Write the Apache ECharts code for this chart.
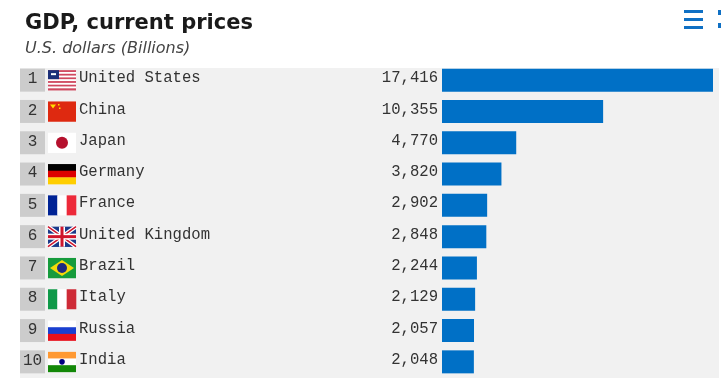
<!DOCTYPE html>
<html>
<head>
<meta charset="utf-8">
<script src="https://cdn.jsdelivr.net/npm/echarts@6/dist/echarts.min.js"></script>
<style>
html,body{margin:0;padding:0;background:#fff;}
#main{width:721px;height:378px;}
</style>
</head>
<body>
<div id="main"></div>
<script>
var countries = ['United States','China','Japan','Germany','France','United Kingdom','Brazil','Italy','Russia','India'];
var gdp = [17416,10355,4770,3820,2902,2848,2244,2129,2057,2048];
var ranks = [1,2,3,4,5,6,7,8,9,10];

var rowFont = '15.6px "Liberation Mono"';

// flags are drawn in a 28x20 box
function stripesH(cols){
    var h = 20/cols.length;
    return cols.map(function(c,i){ return {type:'rect',shape:{x:0,y:i*h,width:28,height:h+0.3},style:{fill:c}}; });
}
function stripesV(cols){
    var w = 28/cols.length;
    return cols.map(function(c,i){ return {type:'rect',shape:{x:i*w,y:0,width:w+0.3,height:20},style:{fill:c}}; });
}
function line(x1,y1,x2,y2,c,w){
    return {type:'line',shape:{x1:x1,y1:y1,x2:x2,y2:y2},style:{stroke:c,lineWidth:w}};
}
var flags = {
    'United States': function(){
        var cols = [];
        for(var i=0;i<11;i++){ cols.push(i%2?'#ffffff':'#d0485f'); }
        return stripesH(cols).concat([
            {type:'rect',shape:{x:0,y:0,width:11,height:9},style:{fill:'#1c2f78'}},
            {type:'rect',shape:{x:3,y:3,width:5,height:2},style:{fill:'#ffffff'}}
        ]);
    },
    'China': function(){
        return stripesH(['#de2910']).concat([
            {type:'polygon',shape:{points:[[2,3],[8,3],[5,7]]},style:{fill:'#ffde00'}},
            {type:'rect',shape:{x:10,y:2.5,width:1.5,height:1.5},style:{fill:'#ffde00'}},
            {type:'rect',shape:{x:11,y:6,width:1.5,height:1.5},style:{fill:'#ffde00'}}
        ]);
    },
    'Japan': function(){
        return stripesH(['#ffffff']).concat([{type:'circle',shape:{cx:14,cy:10,r:6},style:{fill:'#b5102d'}}]);
    },
    'Germany': function(){ return stripesH(['#000000','#dd0000','#ffce00']); },
    'France': function(){ return stripesV(['#002395','#ffffff','#ed2939']); },
    'United Kingdom': function(){
        return stripesH(['#1a3a8a']).concat([
            line(0,0,28,20,'#ffffff',4),line(28,0,0,20,'#ffffff',4),
            line(0,0,28,20,'#cf142b',1.5),line(28,0,0,20,'#cf142b',1.5),
            line(14,0,14,20,'#ffffff',6),line(0,10,28,10,'#ffffff',6),
            line(14,0,14,20,'#cf142b',3),line(0,10,28,10,'#cf142b',3)
        ]);
    },
    'Brazil': function(){
        return stripesH(['#169b3c']).concat([
            {type:'polygon',shape:{points:[[14,2],[26,10],[14,18],[2,10]]},style:{fill:'#f5d90a'}},
            {type:'circle',shape:{cx:14,cy:10,r:5},style:{fill:'#1f2a80'}}
        ]);
    },
    'Italy': function(){ return stripesV(['#109a49','#ffffff','#ce2b37']); },
    'Russia': function(){ return stripesH(['#ffffff','#1a3fd0','#e8101c']); },
    'India': function(){
        return stripesH(['#ff9933','#ffffff','#138808']).concat([{type:'circle',shape:{cx:14,cy:10,r:2.8},style:{fill:'#000080'}}]);
    }
};

function renderRow(params, api){
    var i = api.value(0);
    var y = api.coord([0,i])[1];
    return {
        type:'group',
        children:[
            {type:'rect',shape:{x:20,y:y-11.5,width:25,height:23},style:{fill:'#cccccc'}},
            {type:'text',x:32.5,y:y-1,style:{text:String(ranks[i]),font:'16px "Liberation Mono"',fill:'#333333',align:'center',verticalAlign:'middle'}},
            {type:'group',x:48,y:y-10,children:flags[countries[i]]()},
            {type:'text',x:79,y:y-2,style:{text:countries[i],font:rowFont,fill:'#333333',align:'left',verticalAlign:'middle'}},
            {type:'text',x:438,y:y-2,style:{text:gdp[i].toLocaleString('en-US'),font:rowFont,fill:'#333333',align:'right',verticalAlign:'middle'}}
        ]
    };
}

var myChart = echarts.init(document.getElementById('main'));
var option = {
    animation:false,
    backgroundColor:'#ffffff',
    title:{
        text:'GDP, current prices',
        subtext:'U.S. dollars (Billions)',
        left:20,
        top:8,
        itemGap:7,
        textStyle:{fontFamily:'DejaVu Sans',fontSize:21,fontWeight:'bold',color:'#1a1a1a'},
        subtextStyle:{fontFamily:'DejaVu Sans',fontSize:16,fontStyle:'italic',color:'#444444'}
    },
    graphic:[
        {type:'rect',z:-1,silent:true,shape:{x:20,y:68,width:699,height:310},style:{fill:'#f1f1f1'}},
        {type:'rect',shape:{x:684,y:10,width:19,height:3},style:{fill:'#0f70c4'}},
        {type:'rect',shape:{x:684,y:18,width:19,height:3},style:{fill:'#0f70c4'}},
        {type:'rect',shape:{x:684,y:26,width:19,height:3},style:{fill:'#0f70c4'}},
        {type:'rect',shape:{x:718,y:10,width:3,height:5},style:{fill:'#0f70c4'}},
        {type:'rect',shape:{x:718,y:23,width:3,height:5},style:{fill:'#0f70c4'}}
    ],
    grid:{left:442,top:64.5,width:271,height:313},
    xAxis:{type:'value',min:0,max:17416,show:false},
    yAxis:{type:'category',inverse:true,data:countries,show:false},
    series:[
        {type:'bar',data:gdp,barWidth:23,itemStyle:{color:'#0070c6'}},
        {type:'custom',coordinateSystem:'cartesian2d',renderItem:renderRow,
            encode:{x:1,y:0},
            data:ranks.map(function(r,i){ return [i,0]; })}
    ]
};
myChart.setOption(option);
</script>
</body>
</html>
